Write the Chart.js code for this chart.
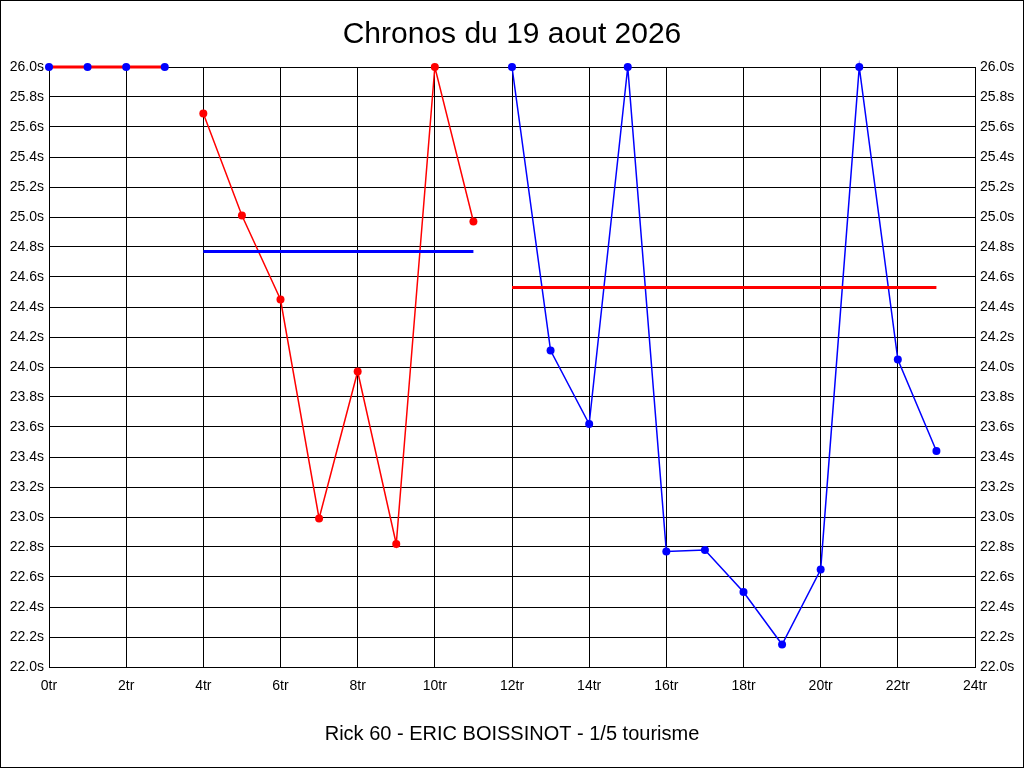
<!DOCTYPE html>
<html>
<head>
<meta charset="utf-8">
<script src="https://cdn.jsdelivr.net/npm/chart.js@4"></script>
<style>
  body { margin: 0; background: #fff; }
  #chronos { display: block; }
</style>
</head>
<body>
<div style="width:1024px;height:768px"><canvas id="chronos" width="1024" height="768"></canvas></div>
<script>
var title = "Chronos du 19 aout 2026";
var footer = "Rick 60 - ERIC BOISSINOT - 1/5 tourisme";

// lap numbers and lap times (seconds)
var laps = [0, 1, 2, 3, 4, 5, 6, 7, 8, 9, 10, 11, 12, 13, 14, 15, 16, 17, 18, 19, 20, 21, 22, 23];
var times = [26.0, 26.0, 26.0, 26.0, 25.69, 25.01, 24.45, 22.99, 23.97, 22.82, 26.0, 24.97,
             26.0, 24.11, 23.62, 26.0, 22.77, 22.78, 22.50, 22.15, 22.65, 26.0, 24.05, 23.44];

// stints: first and last lap, and the mean line drawn over each
var stintStart = [0, 4, 12];
var stintEnd = [3, 11, 23];
var stintMean = [26.0, 24.77, 24.53];
var stintColor = ['#0000ff', '#ff0000', '#0000ff'];
var meanColor = ['#ff0000', '#0000ff', '#ff0000'];

var yMin = 22.0, yMax = 26.0, yStep = 0.2;
var xMin = 0, xMax = 24, xStep = 2;

function stintOf(lap) {
  for (var i = 0; i < stintStart.length; i++) {
    if (lap >= stintStart[i] && lap <= stintEnd[i]) return i;
  }
  return 0;
}

var datasets = [];

stintStart.forEach(function(start, i) {
  var pts = [];
  for (var k = 0; k < laps.length; k++) {
    if (laps[k] >= start && laps[k] <= stintEnd[i]) pts.push({x: laps[k], y: times[k]});
  }
  datasets.push({
    data: pts,
    borderColor: stintColor[i],
    borderWidth: 1.5,
    pointRadius: 0,
    order: 3,
    clip: false
  });
  datasets.push({
    data: [{x: start, y: stintMean[i]}, {x: stintEnd[i], y: stintMean[i]}],
    borderColor: meanColor[i],
    borderWidth: 3,
    pointRadius: 0,
    order: 2,
    clip: false
  });
});

// points on top of everything
datasets.push({
  data: laps.map(function(l, k) { return {x: l, y: times[k]}; }),
  showLine: false,
  pointRadius: 4,
  pointBorderWidth: 0,
  pointBackgroundColor: laps.map(function(l) { return stintColor[stintOf(l)]; }),
  pointBorderColor: laps.map(function(l) { return stintColor[stintOf(l)]; }),
  order: 1,
  clip: false
});

var frame = {
  id: 'frame',
  afterDraw: function(chart) {
    var ctx = chart.ctx;
    ctx.save();
    ctx.strokeStyle = '#000';
    ctx.lineWidth = 1;
    ctx.strokeRect(0.5, 0.5, chart.width - 1, chart.height - 1);
    ctx.restore();
  }
};

var tickFont = {family: "'Liberation Sans', Arial, sans-serif", size: 14};

function yLabel(v) { return Number(v).toFixed(1) + 's'; }

new Chart(document.getElementById('chronos'), {
  type: 'line',
  data: {datasets: datasets},
  plugins: [frame],
  options: {
    responsive: false,
    animation: false,
    events: [],
    layout: {padding: 0},
    plugins: {
      legend: {display: false},
      tooltip: {enabled: false},
      title: {
        display: true,
        text: title,
        color: '#000',
        font: {family: "'Liberation Sans', Arial, sans-serif", size: 30, weight: 'normal', lineHeight: 1.2},
        padding: {top: 17, bottom: 14}
      },
      subtitle: {
        display: true,
        position: 'bottom',
        text: footer,
        color: '#000',
        font: {family: "'Liberation Sans', Arial, sans-serif", size: 20, weight: 'normal', lineHeight: 1.2},
        padding: {top: 25, bottom: 22}
      }
    },
    scales: {
      x: {
        type: 'linear',
        min: xMin,
        max: xMax,
        border: {color: '#000', width: 1},
        grid: {color: '#000', lineWidth: 1, drawTicks: false},
        ticks: {stepSize: xStep, color: '#000', font: tickFont, padding: 11, maxRotation: 0,
                callback: function(v) { return v + 'tr'; }},
        afterFit: function(s) { s.height = 30; }
      },
      y: {
        position: 'left',
        min: yMin,
        max: yMax,
        border: {color: '#000', width: 1},
        grid: {color: '#000', lineWidth: 1, drawTicks: false},
        ticks: {stepSize: yStep, color: '#000', font: tickFont, padding: 5, callback: yLabel},
        afterFit: function(s) { s.width = 49; }
      },
      y2: {
        position: 'right',
        min: yMin,
        max: yMax,
        border: {color: '#000', width: 1},
        grid: {display: false, drawTicks: false},
        ticks: {stepSize: yStep, color: '#000', font: tickFont, padding: 5, callback: yLabel},
        afterFit: function(s) { s.width = 49; }
      }
    }
  }
});
</script>
</body>
</html>
